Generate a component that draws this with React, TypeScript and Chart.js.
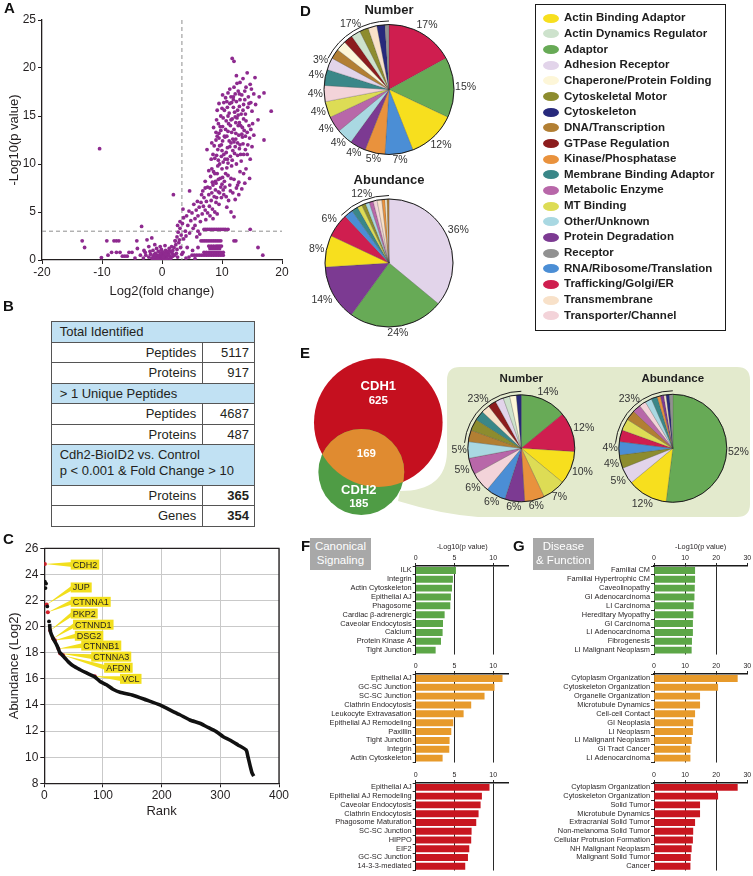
import React, { useEffect, useRef } from 'react';
import { Chart, registerables } from 'chart.js';

Chart.register(...registerables);

const SANS = "'Liberation Sans', Arial, Helvetica, sans-serif";
const INK = '#231f20';

type Pt = [number, number];

// ================= Panel A : volcano plot =================
const volcanoCore: Pt[] = [
  [-2.2, 0.3], [-1.9, 0.6], [-1.7, 0.2], [-1.5, 1.0], [-1.4, 0.4], [-1.2, 0.1], [-1.1, 0.7], [-1.0, 0.3], [-0.9, 1.2], [-0.8, 0.5],
  [-0.7, 0.2], [-0.6, 0.9], [-0.5, 0.4], [-0.4, 0.1], [-0.3, 0.6], [-0.2, 0.3], [-0.1, 1.1], [0.0, 0.2], [0.0, 0.5], [0.1, 0.8],
  [0.2, 0.1], [0.3, 0.4], [0.4, 0.7], [0.5, 0.2], [0.6, 1.0], [0.7, 0.5], [0.8, 0.3], [0.9, 0.8], [1.0, 0.1], [1.1, 0.6],
  [1.2, 1.2], [1.3, 0.4], [1.4, 0.9], [1.5, 0.2], [1.6, 1.4], [1.7, 0.7], [1.8, 1.0], [2.0, 1.3], [2.1, 0.5], [2.3, 1.6],
  [2.5, 1.1], [2.6, 0.3], [2.8, 1.8], [-0.5, 0.05], [0.3, 0.05], [0.8, 0.05], [-1.5, 0.05], [1.4, 0.05], [-2.8, 0.8], [-3.1, 0.2],
  [-0.3, 1.4], [0.5, 1.5], [-1.2, 1.6], [2.2, 2.0], [-0.8, 0.15], [-0.2, 0.7], [0.2, 0.35], [0.6, 0.6], [1.0, 0.9], [-1.3, 0.55],
  [-0.6, 0.05], [0.0, 0.9], [1.8, 0.4], [2.4, 0.7], [3.1, 1.3], [3.3, 0.6], [-2.0, 0.9],
];
const volcanoArm: Pt[] = [
  [2.5, 2.4], [2.7, 2.9], [3.0, 3.3], [3.2, 2.6], [3.9, 3.0], [4.3, 3.6], [5.2, 3.3], [5.8, 2.4], [6.3, 2.7], [2.2, 2.0],
  [2.9, 2.1], [3.6, 2.2], [4.6, 2.8], [5.5, 3.6], [6.0, 3.0], [4.0, 2.5], [1.9, 6.8], [3.0, 4.0], [2.6, 3.6],
  [4.6, 7.2], [5.9, 6.1], [6.5, 6.0], [7.0, 6.5], [7.4, 6.1], [7.9, 5.6], [8.2, 6.2], [8.4, 5.3], [9.0, 6.0], [10.8, 5.5],
  [11.1, 6.2], [6.2, 5.5], [6.9, 5.6], [7.2, 5.2], [7.6, 4.9], [5.3, 5.8], [5.7, 5.2], [6.7, 4.8], [8.0, 4.6], [8.8, 5.0],
  [9.5, 5.8], [9.9, 6.5], [10.3, 6.8], [11.5, 5.0], [12.0, 4.5], [5.5, 4.3], [6.0, 4.6], [6.4, 4.0], [5.0, 4.9], [4.5, 5.1],
  [4.1, 4.6], [4.8, 4.1], [3.6, 4.4], [3.5, 5.3], [3.4, 3.8], [7.3, 4.2], [8.5, 4.3], [9.2, 4.8],
];
const volcanoCloud: Pt[] = [
  [8.0, 7.5], [8.1, 8.7], [8.3, 9.5], [8.5, 7.8], [8.9, 8.2], [9.2, 9.0], [9.4, 7.1], [9.6, 10.0], [9.7, 8.5], [10.0, 9.5],
  [10.2, 7.3], [10.6, 9.0], [11.6, 9.8], [12.4, 7.5], [13.6, 9.0], [14.6, 8.5], [10.1, 8.6], [9.3, 9.8], [7.8, 6.8], [8.7, 6.6],
  [8.6, 9.2], [9.0, 8.0], [10.4, 8.2], [11.0, 8.8], [11.3, 7.8], [12.0, 8.4], [12.8, 8.1], [13.3, 7.4], [11.8, 7.0], [12.8, 6.8],
  [14.0, 9.5], [9.8, 7.6],
  [8.8, 10.6], [9.0, 12.5], [9.3, 11.5], [9.9, 12.0], [10.3, 11.0], [10.5, 12.8], [10.9, 10.5], [11.3, 11.8], [12.1, 11.1], [12.6, 12.2],
  [13.2, 10.3], [13.4, 12.8], [13.9, 11.5], [14.3, 12.0], [14.7, 10.5], [17.0, 12.5], [10.5, 10.5], [11.2, 12.4], [10.9, 11.7], [9.9, 10.8],
  [11.4, 10.8], [12.6, 10.9], [9.6, 11.9], [8.7, 11.9], [7.5, 11.5], [12.9, 11.6], [13.6, 11.0], [11.8, 11.4], [10.0, 11.4], [9.4, 10.4],
  [12.3, 12.6], [13.0, 12.0],
  [8.6, 13.8], [9.1, 14.6], [9.5, 13.2], [10.1, 13.9], [10.7, 14.5], [11.0, 13.4], [11.4, 14.0], [11.8, 12.6], [12.0, 13.6], [12.3, 14.3],
  [12.8, 13.0], [13.1, 14.0], [13.7, 13.5], [14.0, 14.5], [14.5, 14.0], [16.0, 14.6], [9.8, 13.5], [10.2, 14.8], [11.0, 15.0], [11.7, 14.7],
  [12.5, 14.8], [12.9, 14.3], [13.6, 14.7], [11.6, 13.3], [12.3, 13.2], [10.4, 12.9], [9.4, 14.2], [13.4, 13.8], [14.2, 13.3], [15.1, 14.2],
  [9.5, 16.3], [10.4, 15.6], [10.8, 16.5], [11.9, 15.9], [12.9, 16.0], [13.5, 15.6], [13.8, 16.7], [15.0, 15.5], [15.6, 16.2], [16.2, 17.0],
  [18.2, 15.5], [10.6, 16.9], [11.3, 16.3], [12.1, 15.4], [13.2, 15.2], [9.8, 15.0], [11.2, 15.3], [12.7, 15.1], [14.3, 15.9], [10.0, 15.8],
  [11.6, 16.4], [12.4, 16.5], [14.8, 16.4], [13.0, 16.7],
  [10.1, 17.2], [11.5, 17.0], [11.7, 21.0], [12.0, 20.7], [12.5, 18.4], [12.2, 17.3], [13.0, 18.5], [13.3, 17.2], [12.7, 17.6], [14.2, 19.5],
  [14.9, 17.8], [15.5, 19.0], [17.0, 17.4], [14.4, 17.0], [13.8, 17.6], [12.0, 18.0], [11.3, 17.8], [14.7, 18.3],
];
const volcanoCloudExtra: Pt[] = [
  [8.3, 7.0], [8.9, 7.3], [9.1, 6.5], [9.6, 7.0], [10.0, 7.9], [10.5, 7.6], [10.7, 6.6], [11.4, 7.2], [12.2, 6.3], [12.6, 7.8],
  [13.0, 9.2], [13.8, 8.0], [11.5, 8.5], [10.8, 9.6], [9.4, 8.4], [8.4, 8.1], [8.8, 9.0], [10.2, 10.2], [11.0, 10.1], [11.7, 10.4],
  [12.4, 10.0], [13.1, 11.0], [12.2, 11.8], [11.5, 12.2], [10.7, 11.2], [10.1, 12.4], [9.2, 12.9], [9.7, 13.9], [10.6, 13.6], [11.1, 14.2],
  [11.5, 14.6], [12.2, 14.9], [12.7, 14.0], [13.3, 13.1], [13.9, 12.9], [14.6, 12.7], [14.8, 13.6], [15.3, 13.0], [13.9, 15.2], [12.6, 15.6],
  [11.9, 16.7], [10.9, 15.9], [10.3, 16.4], [11.0, 17.4], [12.9, 17.3], [13.6, 16.2], [14.5, 16.3], [15.3, 17.3], [14.0, 18.0], [12.4, 19.2],
  [13.5, 18.9], [11.9, 17.0], [9.2, 15.6], [9.0, 13.3], [8.3, 12.2], [8.2, 10.5], [7.8, 9.3], [7.2, 8.2], [6.8, 7.2], [7.6, 7.6],
  [9.5, 12.7], [10.8, 12.9], [12.0, 12.3], [13.5, 12.1], [8.5, 11.0], [9.1, 10.9], [7.2, 7.5], [6.6, 6.8], [15.0, 11.8], [14.2, 11.0],
];
const volcanoBands: Pt[] = [
  [7.0, 3.2], [7.3, 3.2], [7.6, 3.2], [7.9, 3.2], [8.2, 3.2], [8.5, 3.2], [8.8, 3.2], [9.1, 3.2], [9.4, 3.2], [9.7, 3.2],
  [10.0, 3.2], [10.3, 3.2], [10.6, 3.2], [11.0, 3.2], [14.7, 3.2],
  [6.5, 2.0], [6.8, 2.0], [7.1, 2.0], [7.4, 2.0], [7.7, 2.0], [8.0, 2.0], [8.3, 2.0], [8.6, 2.0], [8.9, 2.0], [9.2, 2.0],
  [9.5, 2.0], [9.8, 2.0], [12.0, 2.0], [12.3, 2.0],
  [7.8, 1.45], [8.2, 1.45], [8.6, 1.45], [9.0, 1.45], [9.3, 1.45], [9.6, 1.45], [9.9, 1.45],
  [8.0, 1.2], [8.4, 1.2], [8.8, 1.2], [9.2, 1.2], [9.6, 1.2],
  [7.0, 0.8], [7.4, 0.8], [7.8, 0.8], [8.2, 0.8], [8.6, 0.8], [9.0, 0.8], [9.4, 0.8], [9.8, 0.8], [10.2, 0.8],
  [5.0, 0.5], [5.4, 0.5], [5.8, 0.5], [6.2, 0.5], [6.6, 0.5], [7.0, 0.5], [7.4, 0.5], [7.8, 0.5], [8.2, 0.5], [8.6, 0.5],
  [9.0, 0.5], [9.4, 0.5], [9.8, 0.5], [10.2, 0.5], [16.8, 0.5],
  [4.0, 0.2], [4.5, 0.3], [5.5, 0.15], [3.5, 0.8], [4.2, 1.3], [5.1, 1.0], [6.0, 1.3], [16.0, 1.3],
];
const volcanoLeft: Pt[] = [
  [-13.3, 2.0], [-12.9, 1.3], [-10.4, 11.6], [-10.1, 0.25], [-9.2, 2.0], [-9.0, 0.5], [-8.4, 0.8], [-8.0, 2.0], [-7.6, 2.0], [-7.2, 2.0],
  [-7.6, 0.8], [-7.0, 0.8], [-6.6, 0.4], [-6.2, 0.4], [-5.8, 0.4], [-5.5, 0.8], [-5.0, 0.8], [-4.5, 0.2], [-3.4, 3.5], [-4.2, 2.0],
  [-4.1, 1.2], [-2.5, 2.1], [-1.7, 2.3], [-2.2, 1.4], [-3.0, 1.0], [-2.7, 0.5], [-3.6, 0.5],
];
const foldChangeCutoff = 3.32; // log2(10)
const pValueCutoff = 3; // -log10(0.001)

// ================= Panel B : summary table =================
const tableHeaders: string[][] = [
  ['Total Identified'],
  ['> 1 Unique Peptides'],
  ['Cdh2-BioID2 vs. Control', 'p < 0.001 & Fold Change > 10'],
];
const tableLabels: string[][] = [['Peptides', 'Proteins'], ['Peptides', 'Proteins'], ['Proteins', 'Genes']];
const tableValues: number[][] = [[5117, 917], [4687, 487], [365, 354]];

// ================= Panel C : abundance rank plot =================
const rankCurve: Pt[] = [
  [9, 20.2], [10, 19.7], [12, 19.4], [15, 19.1], [18, 18.85], [21, 18.6], [24, 18.3], [26, 18.05], [30, 17.85], [35, 17.6],
  [41, 17.3], [49, 17.0], [61, 16.7], [72, 16.45], [86, 16.15], [95, 15.8], [106, 15.55], [117, 15.2], [129, 14.97], [151, 14.75],
  [174, 14.38], [197, 14.0], [214, 13.62], [231, 13.25], [248, 12.85], [265, 12.6], [276, 12.35], [293, 11.96], [305, 11.57], [316, 11.32],
  [330, 10.94], [344, 10.55], [347, 10.05], [351, 9.3], [354, 8.8], [357, 8.55],
];
const topRanked: Pt[] = [[1, 23.45], [3, 23.3], [2, 22.95], [5, 21.55], [8, 20.4]];
const geneNames = ['CDH2', 'JUP', 'CTNNA1', 'PKP2', 'CTNND1', 'DSG2', 'CTNNB1', 'CTNNA3', 'AFDN', 'VCL'];
const geneRanks = [1, 4, 6, 10, 15, 18, 24, 27, 32, 86];
const geneAbundance = [24.8, 21.7, 21.1, 19.7, 19.1, 18.95, 18.3, 17.95, 17.8, 16.2];
const geneLabelRank = [45, 45, 45, 45, 49, 52, 63, 80, 102, 129];
const geneLabelAbundance = [24.75, 23.0, 21.9, 21.0, 20.15, 19.3, 18.55, 17.7, 16.85, 16.0];

// ================= Panel D / E : functional categories =================
const legendNames = [
  'Actin Binding Adaptor', 'Actin Dynamics Regulator', 'Adaptor', 'Adhesion Receptor', 'Chaperone/Protein Folding',
  'Cytoskeletal Motor', 'Cytoskeleton', 'DNA/Transcription', 'GTPase Regulation', 'Kinase/Phosphatase',
  'Membrane Binding Adaptor', 'Metabolic Enzyme', 'MT Binding', 'Other/Unknown', 'Protein Degradation',
  'Receptor', 'RNA/Ribosome/Translation', 'Trafficking/Golgi/ER', 'Transmembrane', 'Transporter/Channel',
];
const legendColors = [
  '#f7df1e', '#cde2cc', '#67aa56', '#e2d4ea', '#fdf6d8',
  '#8d8c2e', '#27297c', '#b27f33', '#8c1c1d', '#e9923d',
  '#3a8788', '#b867a9', '#dddc55', '#a9d8e2', '#7c3a92',
  '#919191', '#4b8ed5', '#cf1e4f', '#f8e1c9', '#f3d3d9',
];
const CAT_COLOR: Record<string, string> = Object.fromEntries(legendNames.map((n, i) => [n, legendColors[i]]));

const dNumberCats = [
  'Trafficking/Golgi/ER', 'Adaptor', 'Actin Binding Adaptor', 'RNA/Ribosome/Translation', 'Kinase/Phosphatase',
  'Protein Degradation', 'Other/Unknown', 'Metabolic Enzyme', 'MT Binding', 'Transporter/Channel',
  'Membrane Binding Adaptor', 'Adhesion Receptor', 'DNA/Transcription', 'Chaperone/Protein Folding', 'GTPase Regulation',
  'Actin Dynamics Regulator', 'Cytoskeletal Motor', 'Transmembrane', 'Cytoskeleton', 'Receptor',
];
const dNumberPct = [17, 15, 12, 7, 5, 4, 4, 4, 4, 4, 4, 3, 2.5, 2.5, 2.3, 2.3, 2.2, 2.2, 2.0, 1.0];

const dAbundanceCats = [
  'Adhesion Receptor', 'Adaptor', 'Protein Degradation', 'Actin Binding Adaptor', 'Trafficking/Golgi/ER',
  'RNA/Ribosome/Translation', 'Membrane Binding Adaptor', 'MT Binding', 'Cytoskeletal Motor', 'Other/Unknown',
  'Metabolic Enzyme', 'Transporter/Channel', 'Transmembrane', 'Kinase/Phosphatase', 'Chaperone/Protein Folding', 'DNA/Transcription',
];
const dAbundancePct = [36, 24, 14, 8, 6, 2.2, 1.6, 1.2, 1.0, 1.0, 1.0, 1.0, 1.2, 0.8, 0.5, 0.5];

const eNumberCats = [
  'Adaptor', 'Trafficking/Golgi/ER', 'Actin Binding Adaptor', 'MT Binding', 'Kinase/Phosphatase',
  'Protein Degradation', 'RNA/Ribosome/Translation', 'Transporter/Channel', 'Metabolic Enzyme', 'Other/Unknown',
  'DNA/Transcription', 'Cytoskeletal Motor', 'Membrane Binding Adaptor', 'Transmembrane', 'GTPase Regulation',
  'Adhesion Receptor', 'Actin Dynamics Regulator', 'Chaperone/Protein Folding', 'Cytoskeleton',
];
const eNumberPct = [14, 12, 10, 7, 6, 6, 6, 6, 5, 5, 3.5, 3.5, 3, 2.5, 2.5, 2.5, 2, 2, 1.5];

const eAbundanceCats = [
  'Adaptor', 'Actin Binding Adaptor', 'Adhesion Receptor', 'Cytoskeletal Motor', 'RNA/Ribosome/Translation',
  'Trafficking/Golgi/ER', 'MT Binding', 'DNA/Transcription', 'Metabolic Enzyme', 'Transporter/Channel',
  'Other/Unknown', 'Membrane Binding Adaptor', 'Kinase/Phosphatase', 'Protein Degradation', 'Transmembrane',
  'Cytoskeleton', 'Receptor',
];
const eAbundancePct = [52, 12, 5, 4, 4, 3.5, 3.5, 3, 2.5, 2, 2, 1.8, 1, 1, 0.7, 1, 1];

// ================= Panel E : Venn =================
const vennNames = ['CDH1', 'CDH2'];
const vennUnique = [625, 185];
const vennShared = 169;

// ================= Panel F / G : enrichment bars =================
const fLabels1 = ['ILK', 'Integrin', 'Actin Cytoskeleton', 'Epithelial AJ', 'Phagosome', 'Cardiac β-adrenergic', 'Caveolar Endocytosis', 'Calcium', 'Protein Kinase A', 'Tight Junction'];
const fValues1 = [5.15, 4.76, 4.64, 4.5, 4.42, 3.69, 3.48, 3.43, 3.22, 2.53];
const fLabels2 = ['Epithelial AJ', 'GC-SC Junction', 'SC-SC Junction', 'Clathrin Endocytosis', 'Leukocyte Extravasation', 'Epithelial AJ Remodeling', 'Paxillin', 'Tight Junction', 'Integrin', 'Actin Cytoskeleton'];
const fValues2 = [11.16, 10.13, 8.84, 7.12, 6.14, 4.8, 4.55, 4.33, 4.29, 3.43];
const fLabels3 = ['Epithelial AJ', 'Epithelial AJ Remodeling', 'Caveolar Endocytosis', 'Clathrin Endocytosis', 'Phagosome Maturation', 'SC-SC Junction', 'HIPPO', 'EIF2', 'GC-SC Junction', '14-3-3-mediated'];
const fValues3 = [9.48, 8.5, 8.33, 8.07, 7.77, 7.17, 7.12, 6.87, 6.7, 6.35];
const gLabels1 = ['Familial CM', 'Familial Hypertrophic CM', 'Caveolinopathy', 'GI Adenocarcinoma', 'LI Carcinoma', 'Hereditary Myopathy', 'GI Carcinoma', 'LI Adenocarcinoma', 'Fibrogenesis', 'LI Malignant Neoplasm'];
const gValues1 = [13.1, 13.1, 13.0, 12.9, 12.65, 12.55, 12.4, 12.4, 12.1, 12.0];
const gLabels2 = ['Cytoplasm Organization', 'Cytoskeleton Organization', 'Organelle Organization', 'Microtubule Dynamics', 'Cell-cell Contact', 'GI Neoplasia', 'LI Neoplasm', 'LI Malignant Neoplasm', 'GI Tract Cancer', 'LI Adenocarcinoma'];
const gValues2 = [26.8, 20.5, 14.7, 14.7, 13.1, 12.5, 12.4, 12.0, 11.6, 11.6];
const gLabels3 = ['Cytoplasm Organization', 'Cytoskeleton Organization', 'Solid Tumor', 'Microtubule Dynamics', 'Extracranial Solid Tumor', 'Non-melanoma Solid Tumor', 'Cellular Protrusion Formation', 'NH Malignant Neoplasm', 'Malignant Solid Tumor', 'Cancer'];
const gValues3 = [26.8, 20.5, 14.7, 14.7, 13.1, 12.5, 12.4, 12.0, 11.7, 11.6];
const fTicks = [0, 5, 10];
const gTicks = [0, 10, 20, 30];
const BAR_GREEN = '#5ca647';
const BAR_ORANGE = '#e79a2b';
const BAR_RED = '#c8161f';

// ================= helpers =================
function ChartCanvas(props: { left: number; top: number; width: number; height: number; build: () => any }) {
  const ref = useRef<HTMLCanvasElement | null>(null);
  useEffect(() => {
    if (!ref.current) return;
    const chart = new Chart(ref.current, props.build());
    return () => chart.destroy();
  }, []);
  return (
    <canvas
      ref={ref}
      width={props.width}
      height={props.height}
      style={{ position: 'absolute', left: props.left, top: props.top, width: props.width, height: props.height }}
    />
  );
}

const toXY = (pts: Pt[]) => pts.map(([x, y]) => ({ x, y }));

// ---------- Panel A ----------
const thresholdPlugin = {
  id: 'thresholds',
  beforeDatasetsDraw(chart: any) {
    const { ctx, chartArea: a, scales } = chart;
    const vx = scales.x.getPixelForValue(foldChangeCutoff);
    const hy = scales.y.getPixelForValue(pValueCutoff);
    ctx.save();
    ctx.strokeStyle = '#8f8f8f';
    ctx.lineWidth = 1;
    ctx.setLineDash([4, 3]);
    ctx.beginPath();
    ctx.moveTo(vx, a.top);
    ctx.lineTo(vx, a.bottom);
    ctx.moveTo(a.left, hy);
    ctx.lineTo(a.right, hy);
    ctx.stroke();
    ctx.restore();
  },
};

function volcanoConfig() {
  const all = [...volcanoCore, ...volcanoArm, ...volcanoCloud, ...volcanoCloudExtra, ...volcanoBands, ...volcanoLeft];
  return {
    type: 'scatter',
    data: {
      datasets: [
        { data: toXY(all), pointRadius: 1.9, pointBackgroundColor: '#8e2a8f', pointBorderWidth: 0 },
      ],
    },
    options: {
      responsive: false,
      animation: false,
      events: [],
      layout: { padding: { left: 0, top: 20, right: 18, bottom: 0 } },
      plugins: { legend: { display: false }, tooltip: { enabled: false } },
      scales: {
        x: {
          type: 'linear', min: -20, max: 20,
          ticks: { stepSize: 10, font: { family: SANS, size: 12 }, color: INK, padding: 1 },
          grid: { drawOnChartArea: false, tickLength: 4, tickColor: INK },
          border: { color: INK, width: 1.3 },
          title: { display: true, text: 'Log2(fold change)', font: { family: SANS, size: 13 }, color: INK, padding: { top: 0, bottom: 1 } },
          afterFit: (s: any) => { s.height = 40; },
        },
        y: {
          type: 'linear', min: 0, max: 25,
          ticks: { stepSize: 5, font: { family: SANS, size: 12 }, color: INK, padding: 2 },
          grid: { drawOnChartArea: false, tickLength: 4, tickColor: INK },
          border: { color: INK, width: 1.3 },
          title: { display: true, text: '-Log10(p value)', font: { family: SANS, size: 13 }, color: INK, padding: { top: 7, bottom: 0 } },
          afterFit: (s: any) => { s.width = 42; },
        },
      },
    },
    plugins: [thresholdPlugin],
  };
}

// ---------- Panel C ----------
const calloutPlugin = {
  id: 'geneCallouts',
  beforeDatasetsDraw(chart: any) {
    const { ctx, scales } = chart;
    const x = scales.x, y = scales.y;
    ctx.save();
    ctx.font = `9px ${SANS}`;
    ctx.textBaseline = 'middle';
    ctx.textAlign = 'left';
    geneNames.forEach((g, i) => {
      const px = x.getPixelForValue(geneRanks[i]);
      const py = y.getPixelForValue(geneAbundance[i]);
      const bx = x.getPixelForValue(geneLabelRank[i]);
      const by = y.getPixelForValue(geneLabelAbundance[i]);
      const w = ctx.measureText(g).width + 4;
      const h = 10;
      ctx.fillStyle = '#f2df1d';
      ctx.beginPath();
      ctx.moveTo(px, py);
      ctx.lineTo(bx + 2, by - 2.5);
      ctx.lineTo(bx + 2, by + 2.5);
      ctx.closePath();
      ctx.fill();
      ctx.fillRect(bx, by - h / 2, w, h);
      ctx.fillStyle = INK;
      ctx.fillText(g, bx + 2, by + 0.5);
    });
    ctx.restore();
  },
  afterDraw(chart: any) {
    const { ctx, chartArea: a } = chart;
    ctx.save();
    ctx.strokeStyle = INK;
    ctx.lineWidth = 1.3;
    ctx.beginPath();
    ctx.moveTo(a.left, a.top);
    ctx.lineTo(a.right, a.top);
    ctx.lineTo(a.right, a.bottom);
    ctx.stroke();
    ctx.restore();
  },
};

function rankConfig() {
  const grid = { drawOnChartArea: true, color: '#c9c9c9', tickLength: 4, tickColor: INK, lineWidth: 1 };
  return {
    type: 'scatter',
    data: {
      datasets: [
        { data: toXY(rankCurve), showLine: true, borderColor: '#111', borderWidth: 3.6, pointRadius: 0, tension: 0.2 },
        { data: toXY(topRanked), pointRadius: 1.9, pointBackgroundColor: '#111', pointBorderWidth: 0 },
        { data: geneRanks.map((r, i) => ({ x: r, y: geneAbundance[i] })), pointRadius: 2, pointBackgroundColor: '#d3202b', pointBorderWidth: 0 },
      ],
    },
    options: {
      responsive: false,
      animation: false,
      events: [],
      layout: { padding: { left: 0, top: 18.3, right: 21, bottom: 0 } },
      plugins: { legend: { display: false }, tooltip: { enabled: false } },
      scales: {
        x: {
          type: 'linear', min: 0, max: 400,
          ticks: { stepSize: 100, font: { family: SANS, size: 12 }, color: INK, padding: 1 },
          grid, border: { color: INK, width: 1.3 },
          title: { display: true, text: 'Rank', font: { family: SANS, size: 13 }, color: INK, padding: { top: 0, bottom: 11 } },
          afterFit: (s: any) => { s.height = 46.7; },
        },
        y: {
          type: 'linear', min: 8, max: 26,
          ticks: { stepSize: 2, font: { family: SANS, size: 12 }, color: INK, padding: 2 },
          grid, border: { color: INK, width: 1.3 },
          title: { display: true, text: 'Abundance (Log2)', font: { family: SANS, size: 13 }, color: INK, padding: { top: 7, bottom: 0 } },
          afterFit: (s: any) => { s.width = 44.3; },
        },
      },
    },
    plugins: [calloutPlugin],
  };
}

// ---------- Pies ----------
const pieDecor = {
  id: 'pieDecor',
  afterDraw(chart: any, _args: any, opts: any) {
    const ctx = chart.ctx;
    const arcs = chart.getDatasetMeta(0).data as any[];
    if (!arcs.length) return;
    const vals = chart.data.datasets[0].data as number[];
    const total = vals.reduce((a, b) => a + b, 0);
    const cx = arcs[0].x, cy = arcs[0].y, R = arcs[0].outerRadius;
    ctx.save();
    ctx.strokeStyle = '#1e1e1e';
    ctx.lineWidth = 1;
    ctx.beginPath();
    ctx.arc(cx, cy, R, 0, Math.PI * 2);
    ctx.stroke();
    ctx.font = `${opts.fontSize}px ${SANS}`;
    ctx.fillStyle = '#333';
    ctx.textAlign = 'center';
    ctx.textBaseline = 'middle';
    const place = (ang: number, text: string, gap: number) => {
      const w = ctx.measureText(text).width;
      const h = opts.fontSize * 0.74;
      const c = Math.cos(ang), s = Math.sin(ang);
      const d = R + gap + (w / 2) * Math.abs(c) + (h / 2) * Math.abs(s);
      ctx.fillText(text, cx + c * d, cy + s * d);
    };
    const n = opts.labelCount;
    for (let i = 0; i < n; i++) {
      const a = arcs[i];
      place((a.startAngle + a.endAngle) / 2, Math.round((vals[i] / total) * 100) + '%', opts.gap);
    }
    if (n < arcs.length) {
      const a0 = arcs[n].startAngle, a1 = arcs[arcs.length - 1].endAngle;
      ctx.beginPath();
      ctx.arc(cx, cy, R + 3.5, a0 - 0.03, a1);
      ctx.strokeStyle = '#1e1e1e';
      ctx.lineWidth = 1;
      ctx.stroke();
      const rest = vals.slice(n).reduce((a, b) => a + b, 0);
      place((a0 + a1) / 2, Math.round((rest / total) * 100) + '%', opts.gap + 1);
    }
    ctx.font = `bold ${opts.titleSize}px ${SANS}`;
    ctx.fillStyle = '#1e1e1e';
    ctx.fillText(opts.title, cx, cy - opts.titleDy);
    ctx.restore();
  },
};

function pieConfig(cats: string[], pct: number[], o: any) {
  return {
    type: 'pie',
    data: {
      labels: cats,
      datasets: [{
        data: pct,
        backgroundColor: cats.map((c) => CAT_COLOR[c]),
        borderColor: 'rgba(60,60,60,0.45)',
        borderWidth: 0.5,
        hoverOffset: 0,
        radius: o.R,
      }],
    },
    options: {
      responsive: false,
      animation: false,
      events: [],
      layout: { padding: { left: o.cx - o.R, top: o.cy - o.R, right: o.W - o.cx - o.R, bottom: o.H - o.cy - o.R } },
      plugins: {
        legend: { display: false },
        tooltip: { enabled: false },
        pieDecor: { labelCount: o.labelCount, title: o.title, titleSize: o.titleSize, titleDy: o.titleDy, fontSize: o.fontSize, gap: o.gap },
      },
    },
    plugins: [pieDecor],
  };
}

// ---------- Venn ----------
const VENN_BOX = { left: 300, top: 330, width: 453, height: 200 };
const VENN_CENTERS: Pt[] = [[378.3, 422.6], [361.3, 472]];
const VENN_SCALE = 2.282;
const vennRadius = (i: number) => VENN_SCALE * Math.sqrt(vennUnique[i] + vennShared);

const vennPlugin = {
  id: 'vennDecor',
  beforeDatasetsDraw(chart: any) {
    const { ctx, scales } = chart;
    const X = (v: number) => scales.x.getPixelForValue(v);
    const Y = (v: number) => scales.y.getPixelForValue(v);
    ctx.save();
    ctx.fillStyle = '#e3eacd';
    ctx.beginPath();
    ctx.moveTo(X(400), Y(491));
    ctx.quadraticCurveTo(X(446), Y(491), X(447), Y(452));
    ctx.lineTo(X(447), Y(380));
    ctx.quadraticCurveTo(X(447), Y(367), X(460), Y(367));
    ctx.lineTo(X(737), Y(367));
    ctx.quadraticCurveTo(X(750), Y(367), X(750), Y(380));
    ctx.lineTo(X(750), Y(504));
    ctx.quadraticCurveTo(X(750), Y(517), X(737), Y(517));
    ctx.lineTo(X(478), Y(517));
    ctx.quadraticCurveTo(X(440), Y(514), X(398), Y(501));
    ctx.closePath();
    ctx.fill();
    ctx.restore();
  },
  afterDatasetsDraw(chart: any) {
    const { ctx } = chart;
    const pts = chart.getDatasetMeta(0).data as any[];
    if (pts.length < 2) return;
    const c1 = { x: pts[0].x, y: pts[0].y, r: vennRadius(0) };
    const c2 = { x: pts[1].x, y: pts[1].y, r: vennRadius(1) };
    ctx.save();
    ctx.beginPath();
    ctx.arc(c1.x, c1.y, c1.r, 0, Math.PI * 2);
    ctx.clip();
    ctx.fillStyle = '#e08b30';
    ctx.beginPath();
    ctx.arc(c2.x, c2.y, c2.r, 0, Math.PI * 2);
    ctx.fill();
    ctx.restore();

    const dx = c2.x - c1.x, dy = c2.y - c1.y;
    const d = Math.hypot(dx, dy);
    const ux = dx / d, uy = dy / d;
    const m = (d - c2.r + c1.r) / 2;
    ctx.save();
    ctx.fillStyle = '#ffffff';
    ctx.textAlign = 'center';
    ctx.textBaseline = 'middle';
    ctx.font = `bold 13px ${SANS}`;
    ctx.fillText(vennNames[0], c1.x, c1.y - 36);
    ctx.fillText(vennNames[1], c2.x - 2.5, c2.y + 18);
    ctx.font = `bold 11.5px ${SANS}`;
    ctx.fillText(String(vennUnique[0]), c1.x, c1.y - 22);
    ctx.fillText(String(vennUnique[1]), c2.x - 2.5, c2.y + 32);
    ctx.fillText(String(vennShared), c1.x + ux * m, c1.y + uy * m - 4);
    ctx.restore();
  },
};

function vennConfig() {
  const B = VENN_BOX;
  return {
    type: 'bubble',
    data: {
      datasets: [{
        data: VENN_CENTERS.map(([x, y], i) => ({ x, y, r: vennRadius(i) })),
        backgroundColor: ['#c5101f', '#4f9c45'],
        borderWidth: 0,
        hoverRadius: 0,
        clip: false,
      }],
    },
    options: {
      responsive: false,
      animation: false,
      events: [],
      layout: { padding: 0, autoPadding: false },
      plugins: { legend: { display: false }, tooltip: { enabled: false } },
      scales: {
        x: { type: 'linear', display: false, min: B.left, max: B.left + B.width },
        y: { type: 'linear', display: false, min: B.top, max: B.top + B.height, reverse: true },
      },
    },
    plugins: [vennPlugin],
  };
}

// ---------- Bars ----------
function barConfig(p: {
  labels: string[]; values: number[]; color: string; max: number; ticks: number[];
  scaleH: number; title?: string; yW: number; padRight: number; padBottom: number;
}) {
  const step = p.ticks[1] - p.ticks[0];
  const gridAt = p.ticks.slice(1).filter((t) => t < p.max);
  return {
    type: 'bar',
    data: { labels: p.labels, datasets: [{ data: p.values, backgroundColor: p.color, barThickness: 6.3 }] },
    options: {
      indexAxis: 'y',
      responsive: false,
      animation: false,
      events: [],
      layout: { padding: { left: 0, top: 0, right: p.padRight, bottom: p.padBottom } },
      plugins: { legend: { display: false }, tooltip: { enabled: false } },
      scales: {
        x: {
          type: 'linear', position: 'top', min: 0, max: p.max,
          ticks: { stepSize: step, includeBounds: false, font: { family: SANS, size: 7 }, color: INK, padding: 1, maxRotation: 0 },
          grid: {
            drawOnChartArea: true, lineWidth: 1, tickLength: 3, tickColor: '#2a2a2a',
            color: (c: any) => (c.tick && gridAt.includes(c.tick.value) ? '#2a2a2a' : 'rgba(0,0,0,0)'),
          },
          border: { display: true, color: '#1a1a1a', width: 1.5 },
          title: { display: !!p.title, text: p.title || '', font: { family: SANS, size: 7.3 }, color: INK, padding: { top: 2.5, bottom: 0 } },
          afterFit: (s: any) => { s.height = p.scaleH; },
        },
        y: {
          ticks: { font: { family: SANS, size: 7.4 }, color: INK, padding: 1, autoSkip: false },
          grid: { drawOnChartArea: false, tickLength: 3, tickColor: '#2a2a2a' },
          border: { color: '#1a1a1a', width: 1 },
          afterFit: (s: any) => { s.width = p.yW; },
        },
      },
    },
  };
}

// ================= components =================
const panelLetter = (ch: string, left: number, top: number) => (
  <div key={ch} style={{ position: 'absolute', left, top, font: `bold 15px ${SANS}`, color: '#111', lineHeight: '15px' }}>{ch}</div>
);

function SummaryTable() {
  const left = 51.7, top = 321.7, width = 202.3, rowH = 20.4, col1 = 151.6;
  const rows: any[] = [];
  let y = 0;
  tableHeaders.forEach((hdr, s) => {
    const h = rowH * hdr.length;
    rows.push(
      <div key={'h' + s} style={{
        position: 'absolute', left: 0, top: y, width, height: h, background: '#c1e1f3',
        borderTop: s === 0 ? 'none' : '1px solid #555', boxSizing: 'border-box', paddingLeft: 8, paddingTop: hdr.length > 1 ? 1.5 : 0,
        lineHeight: hdr.length > 1 ? '16.5px' : `${rowH}px`,
      }}>
        {hdr.map((t, k) => <div key={k}>{t}</div>)}
      </div>,
    );
    y += h;
    tableLabels[s].forEach((lab, k) => {
      const bold = s === 2;
      rows.push(
        <div key={'r' + s + k} style={{ position: 'absolute', left: 0, top: y, width, height: rowH, borderTop: '1px solid #555', boxSizing: 'border-box', background: '#fff' }}>
          <div style={{ position: 'absolute', left: 0, top: 0, width: col1, height: rowH - 1, borderRight: '1px solid #555', boxSizing: 'border-box', textAlign: 'right', paddingRight: 6, lineHeight: `${rowH - 1}px` }}>{lab}</div>
          <div style={{ position: 'absolute', left: col1, top: 0, width: width - col1, height: rowH - 1, textAlign: 'right', paddingRight: 5, boxSizing: 'border-box', lineHeight: `${rowH - 1}px`, fontWeight: bold ? 'bold' : 'normal' }}>{tableValues[s][k]}</div>
        </div>,
      );
      y += rowH;
    });
  });
  return (
    <div style={{
      position: 'absolute', left, top, width, height: y, border: '1px solid #555', boxSizing: 'content-box',
      font: `13px ${SANS}`, color: INK, marginLeft: -1, marginTop: -1,
    }}>
      {rows}
    </div>
  );
}

function Legend() {
  return (
    <>
      <div style={{ position: 'absolute', left: 535, top: 4, width: 191, height: 327, border: '1.5px solid #1a1a1a', boxSizing: 'border-box' }} />
      {legendNames.map((n, i) => {
        const cy = 18.3 + i * 15.65;
        return (
          <React.Fragment key={n}>
            <div style={{ position: 'absolute', left: 543, top: cy - 4.5, width: 16, height: 9, borderRadius: '50%', background: legendColors[i] }} />
            <div style={{ position: 'absolute', left: 564, top: cy - 7, height: 14, lineHeight: '14px', font: `bold 11.5px ${SANS}`, color: '#1e1e1e', whiteSpace: 'nowrap' }}>{n}</div>
          </React.Fragment>
        );
      })}
    </>
  );
}

const grayBox = (lines: string[], left: number) => (
  <div style={{
    position: 'absolute', left, top: 538, width: 61, height: 32, background: '#a8a8a8', color: '#fff',
    font: `11.5px ${SANS}`, textAlign: 'center', lineHeight: '13.5px', paddingTop: 2, boxSizing: 'border-box', overflow: 'hidden',
  }}>
    {lines.map((l, i) => <div key={i}>{l}</div>)}
  </div>
);

export default function App() {
  const F = { left: 300, width: 215, yW: 115.7, padRight: 6.3 };
  const G = { left: 525, width: 228, yW: 129, padRight: 5.7 };
  const rowsV = [
    { top: 540, height: 120, scaleH: 26 },
    { top: 660, height: 108, scaleH: 14 },
    { top: 768, height: 108, scaleH: 15 },
  ];
  const fSets = [[fLabels1, fValues1, BAR_GREEN], [fLabels2, fValues2, BAR_ORANGE], [fLabels3, fValues3, BAR_RED]] as const;
  const gSets = [[gLabels1, gValues1, BAR_GREEN], [gLabels2, gValues2, BAR_ORANGE], [gLabels3, gValues3, BAR_RED]] as const;

  return (
    <div style={{ position: 'absolute', left: 0, top: 0, width: 753, height: 876, background: '#fff', overflow: 'hidden', fontFamily: SANS }}>
      <ChartCanvas left={0} top={0} width={300} height={300} build={volcanoConfig} />
      <SummaryTable />
      <ChartCanvas left={0} top={530} width={300} height={300} build={rankConfig} />
      <ChartCanvas left={VENN_BOX.left} top={VENN_BOX.top} width={VENN_BOX.width} height={VENN_BOX.height} build={vennConfig} />
      <ChartCanvas left={300} top={0} width={200} height={175} build={() => pieConfig(dNumberCats, dNumberPct, {
        W: 200, H: 175, cx: 89, cy: 89.5, R: 65, labelCount: 12, title: 'Number', titleSize: 13, titleDy: 79.5, fontSize: 10.5, gap: 1,
      })} />
      <ChartCanvas left={300} top={175} width={200} height={170} build={() => pieConfig(dAbundanceCats, dAbundancePct, {
        W: 200, H: 170, cx: 89, cy: 88, R: 64, labelCount: 5, title: 'Abundance', titleSize: 13, titleDy: 83, fontSize: 10.5, gap: 1.5,
      })} />
      <ChartCanvas left={445} top={368} width={150} height={150} build={() => pieConfig(eNumberCats, eNumberPct, {
        W: 150, H: 150, cx: 76.3, cy: 80.3, R: 53.5, labelCount: 10, title: 'Number', titleSize: 11.5, titleDy: 69.3, fontSize: 10.5, gap: 1,
      })} />
      <ChartCanvas left={595} top={368} width={158} height={150} build={() => pieConfig(eAbundanceCats, eAbundancePct, {
        W: 158, H: 150, cx: 77.8, cy: 80.3, R: 54, labelCount: 5, title: 'Abundance', titleSize: 11.5, titleDy: 69.3, fontSize: 10.5, gap: 1,
      })} />
      <Legend />
      {fSets.map(([labels, values, color], i) => (
        <ChartCanvas key={'f' + i} left={F.left} top={rowsV[i].top} width={F.width} height={rowsV[i].height} build={() => barConfig({
          labels: [...labels], values: [...values], color, max: 12, ticks: fTicks, scaleH: rowsV[i].scaleH,
          title: i === 0 ? '-Log10(p value)' : undefined, yW: F.yW, padRight: F.padRight, padBottom: 3,
        })} />
      ))}
      {gSets.map(([labels, values, color], i) => (
        <ChartCanvas key={'g' + i} left={G.left} top={rowsV[i].top} width={G.width} height={rowsV[i].height} build={() => barConfig({
          labels: [...labels], values: [...values], color, max: 30, ticks: gTicks, scaleH: rowsV[i].scaleH,
          title: i === 0 ? '-Log10(p value)' : undefined, yW: G.yW, padRight: G.padRight, padBottom: 3,
        })} />
      ))}
      {grayBox(['Canonical', 'Signaling'], 310)}
      {grayBox(['Disease', '& Function'], 533)}
      {panelLetter('A', 4, 0)}
      {panelLetter('B', 3, 298)}
      {panelLetter('C', 3, 531)}
      {panelLetter('D', 300, 3)}
      {panelLetter('E', 300, 345)}
      {panelLetter('F', 301, 538)}
      {panelLetter('G', 513, 538)}
    </div>
  );
}
